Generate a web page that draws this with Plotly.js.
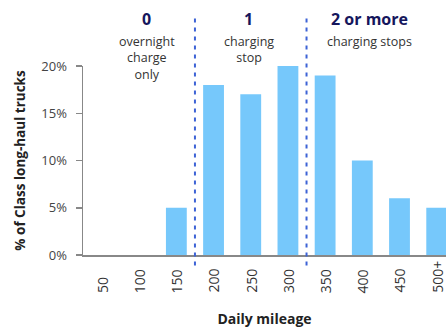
<!DOCTYPE html>
<html>
<head>
<meta charset="utf-8">
<script src="https://cdn.plot.ly/plotly-3.0.1.min.js"></script>
<style>html,body{margin:0;padding:0;background:#fff;}#chart{width:446px;height:331px;}</style>
</head>
<body>
<div id="chart"></div>
<script>
var categories = ["50","100","150","200","250","300","350","400","450","500+"];
var shares = [0, 0, 5, 18, 17, 20, 19, 10, 6, 5];
var yTickVals = [0, 5, 10, 15, 20];
var yTickText = ["0%", "5%", "10%", "15%", "20%"];
var groupDividers = [2.5, 5.5];
var groupHeads = ["0", "1", "2 or more"];
var groupSubs = ["overnight<br>charge<br>only", "charging<br>stop", "charging stops"];
var groupCenters = [1.2, 3.95, 7.2];

var font = "'Open Sans', sans-serif";
var trace = {
  type: "bar",
  x: categories,
  y: shares,
  marker: {color: "#76c8fb"},
  width: 0.56,
  hoverinfo: "skip"
};

var shapes = groupDividers.map(function(d){
  return {type: "line", xref: "x", yref: "paper", x0: d, x1: d, y0: -0.055, y1: 1.27,
    line: {color: "#3d63d6", width: 2, dash: "4px,5px"}};
});

var annotations = [];
for (var i = 0; i < groupHeads.length; i++) {
  annotations.push({xref: "x", yref: "paper", x: groupCenters[i], y: 1.186, text: "<b>" + groupHeads[i] + "</b>",
    showarrow: false, borderpad: 0, font: {family: font, size: 16, color: "#15165c"}, yanchor: "bottom"});
  annotations.push({xref: "x", yref: "paper", x: groupCenters[i], y: 1.178, text: groupSubs[i],
    showarrow: false, borderpad: 0, font: {family: font, size: 12.5, color: "#333"}, yanchor: "top"});
}
// x tick labels, rotated and aligned at their start (bottom)
categories.forEach(function(c, idx){
  annotations.push({xref: "x", yref: "paper", x: idx, y: -0.212, text: c, textangle: -90,
    showarrow: false, yanchor: "bottom", xanchor: "center",
    font: {family: font, size: 14, color: "#333"}});
});

var layout = {
  width: 446, height: 331,
  margin: {l: 83, r: 0, t: 66, b: 76},
  paper_bgcolor: "#fff", plot_bgcolor: "#fff",
  showlegend: false,
  font: {family: font, color: "#444"},
  xaxis: {
    type: "category",
    range: [-0.51, 9.25],
    showticklabels: false,
    showgrid: false,
    showline: true, linecolor: "#888", linewidth: 1.5,
    ticks: "",
    title: {text: "<b>Daily mileage</b>", font: {family: font, size: 14, color: "#222"}, standoff: 58}
  },
  yaxis: {
    range: [0, 20],
    tickvals: yTickVals,
    ticktext: yTickText,
    showgrid: false, zeroline: false,
    showline: true, linecolor: "#888", linewidth: 1.5,
    ticks: "outside", ticklen: 6, tickcolor: "#888", tickwidth: 1.5,
    ticklabelstandoff: 6,
    tickfont: {family: font, size: 13, color: "#444"},
    title: {text: "<b>% of Class long-haul trucks</b>", font: {family: font, size: 13.5, color: "#222"}, standoff: 12}
  },
  shapes: shapes,
  annotations: annotations
};

Plotly.newPlot("chart", [trace], layout, {displayModeBar: false, staticPlot: true});
</script>
</body>
</html>
